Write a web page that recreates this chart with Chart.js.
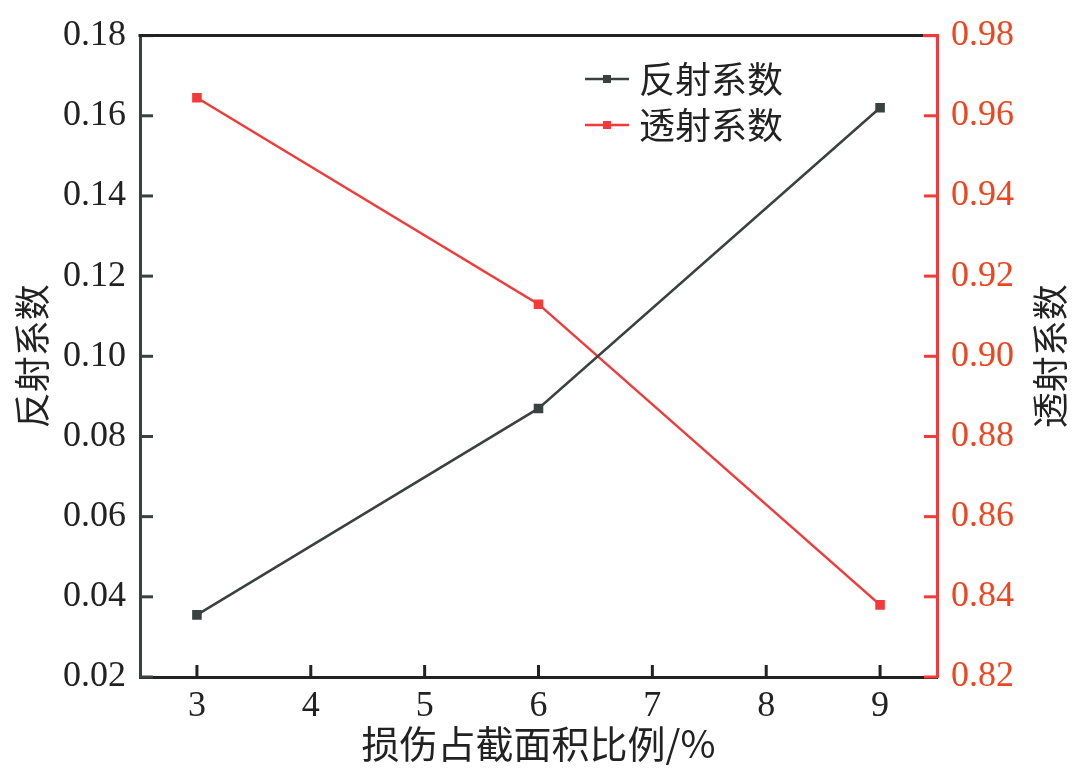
<!DOCTYPE html>
<html>
<head>
<meta charset="utf-8">
<script src="https://cdn.jsdelivr.net/npm/chart.js@4/dist/chart.umd.min.js"></script>
<style>
  html, body { margin: 0; padding: 0; background: #fff; }
  #wrap { width: 1080px; height: 784px; position: relative; }
</style>
</head>
<body>
<div id="wrap"><canvas id="chart"></canvas></div>
<script>
// damage area ratio (%) and the two coefficients
const areaRatio = [3, 6, 9];
const reflection = [0.0355, 0.087, 0.162];
const transmission = [0.9645, 0.913, 0.838];

const xTicks = [3, 4, 5, 6, 7, 8, 9];
const leftTicks = [0.02, 0.04, 0.06, 0.08, 0.10, 0.12, 0.14, 0.16, 0.18];
const rightTicks = [0.82, 0.84, 0.86, 0.88, 0.90, 0.92, 0.94, 0.96, 0.98];

const seriesNames = ['反射系数', '透射系数'];
const xTitle = '损伤占截面积比例/%';

const numFont = { family: '"Liberation Serif", "DejaVu Serif", serif', size: 36 };
const cjkFont = '"Noto Sans CJK SC", sans-serif';
const darkLine = '#3b4040';
const redLine = '#f23a3a';
const redText = '#ec4520';

// ticks point inward, top frame line, rotated right title, legend
const framePlugin = {
  id: 'frame',
  afterDatasetsDraw(chart) {
    const { ctx, chartArea: a, scales } = chart;
    ctx.save();
    ctx.lineWidth = 3;
    ctx.strokeStyle = '#222';
    scales.x.ticks.forEach(t => {
      const px = scales.x.getPixelForValue(t.value);
      ctx.beginPath(); ctx.moveTo(px, a.bottom); ctx.lineTo(px, a.bottom - 12); ctx.stroke();
    });
    ctx.strokeStyle = darkLine;
    scales.y.ticks.forEach(t => {
      const py = scales.y.getPixelForValue(t.value);
      ctx.beginPath(); ctx.moveTo(a.left, py); ctx.lineTo(a.left + 13, py); ctx.stroke();
    });
    ctx.strokeStyle = redLine;
    scales.y1.ticks.forEach(t => {
      const py = scales.y1.getPixelForValue(t.value);
      ctx.beginPath(); ctx.moveTo(a.right, py); ctx.lineTo(a.right - 13, py); ctx.stroke();
    });
    // top border
    ctx.strokeStyle = '#222';
    ctx.beginPath(); ctx.moveTo(a.left - 1.5, a.top); ctx.lineTo(a.right - 14, a.top); ctx.stroke();
    ctx.strokeStyle = redLine;
    ctx.beginPath(); ctx.moveTo(a.right - 14, a.top); ctx.lineTo(a.right + 1.5, a.top); ctx.stroke();

    // right axis title, reading bottom-to-top like the left one
    ctx.fillStyle = '#222';
    ctx.font = '36px ' + cjkFont;
    ctx.textAlign = 'center';
    ctx.textBaseline = 'middle';
    ctx.translate(1050, (a.top + a.bottom) / 2);
    ctx.rotate(-Math.PI / 2);
    ctx.fillText(seriesNames[1], 0, 0);
    ctx.restore();

    // legend
    ctx.save();
    chart.data.datasets.forEach((ds, i) => {
      const y = 79 + i * 46;
      ctx.strokeStyle = ds.borderColor;
      ctx.lineWidth = 2.5;
      ctx.beginPath(); ctx.moveTo(585, y); ctx.lineTo(629, y); ctx.stroke();
      ctx.fillStyle = ds.borderColor;
      ctx.fillRect(603, y - 4, 8, 8);
      ctx.fillStyle = '#222';
      ctx.font = '36px ' + cjkFont;
      ctx.textAlign = 'left';
      ctx.textBaseline = 'middle';
      ctx.fillText(ds.label, 639, y);
    });
    ctx.restore();
  }
};

new Chart(document.getElementById('chart'), {
  type: 'line',
  data: {
    datasets: [
      {
        label: seriesNames[0],
        data: areaRatio.map((x, i) => ({ x, y: reflection[i] })),
        borderColor: darkLine,
        backgroundColor: darkLine,
        borderWidth: 2.5,
        pointStyle: 'rect',
        pointRadius: 5,
        yAxisID: 'y',
      },
      {
        label: seriesNames[1],
        data: areaRatio.map((x, i) => ({ x, y: transmission[i] })),
        borderColor: redLine,
        backgroundColor: redLine,
        borderWidth: 2.5,
        pointStyle: 'rect',
        pointRadius: 5,
        yAxisID: 'y1',
      },
    ],
  },
  options: {
    responsive: true,
    maintainAspectRatio: false,
    animation: false,
    layout: { padding: { top: 34, left: 0, right: 0, bottom: 0 } },
    plugins: { legend: { display: false }, tooltip: { enabled: false } },
    scales: {
      x: {
        type: 'linear',
        min: 2.5,
        max: 9.5,
        afterBuildTicks: s => { s.ticks = xTicks.map(v => ({ value: v })); },
        afterFit: s => { s.height = 107; },
        grid: { display: false, drawTicks: false },
        border: { color: '#222', width: 3 },
        ticks: { font: numFont, color: '#222', padding: 8, callback: v => String(v) },
        title: { display: true, text: xTitle, font: { family: cjkFont, size: 38 }, color: '#222', padding: { top: 0, bottom: 18 } },
      },
      y: {
        type: 'linear',
        position: 'left',
        min: 0.02,
        max: 0.18,
        afterBuildTicks: s => { s.ticks = leftTicks.map(v => ({ value: v })); },
        afterFit: s => { s.width = 140; },
        grid: { display: false, drawTicks: false },
        border: { color: darkLine, width: 3 },
        ticks: { font: numFont, color: '#222', padding: 14, callback: v => v.toFixed(2) },
        title: { display: true, text: seriesNames[0], font: { family: cjkFont, size: 36 }, color: '#222', padding: { top: 11, bottom: 0 } },
      },
      y1: {
        type: 'linear',
        position: 'right',
        min: 0.82,
        max: 0.98,
        afterBuildTicks: s => { s.ticks = rightTicks.map(v => ({ value: v })); },
        afterFit: s => { s.width = 143; },
        grid: { display: false, drawTicks: false },
        border: { color: redLine, width: 3 },
        ticks: { font: numFont, color: redText, padding: 14, callback: v => v.toFixed(2) },
      },
    },
  },
  plugins: [framePlugin],
});
</script>
</body>
</html>
